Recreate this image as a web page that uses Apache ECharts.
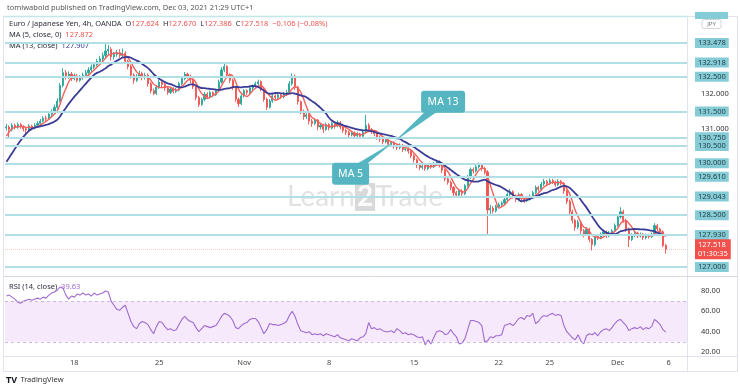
<!DOCTYPE html>
<html>
<head>
<meta charset="utf-8">
<script src="https://cdn.jsdelivr.net/npm/echarts@6/dist/echarts.min.js"></script>
<style>
html, body { margin: 0; padding: 0; background: #fff; }
#c { width: 740px; height: 390px; }
</style>
</head>
<body>
<div id="c"></div>
<script>
// EUR/JPY 4h candles: [open, close, low, high]
var candles = [
	[131.02,131.05,130.95,131.14],[131.05,130.98,130.73,131.10],[130.98,131.10,130.92,131.16],[131.10,131.04,130.98,131.15],
	[131.04,131.12,131.00,131.18],[131.12,131.06,131.00,131.17],[131.06,131.00,130.92,131.10],[131.00,130.96,130.85,131.05],
	[130.96,131.08,130.93,131.14],[131.08,131.02,130.96,131.12],[131.02,131.10,130.98,131.16],[131.10,131.15,131.04,131.22],
	[131.15,131.22,131.10,131.28],[131.22,131.30,131.18,131.36],[131.30,131.28,131.20,131.38],[131.28,131.42,131.25,131.48],
	[131.42,131.50,131.36,131.56],[131.50,131.62,131.45,131.70],[131.62,131.80,131.58,131.88],[131.80,132.25,131.76,132.32],
	[132.25,132.62,132.20,132.75],[132.62,132.50,132.42,132.70],[132.50,132.58,132.44,132.66],[132.58,132.45,132.38,132.64],
	[132.45,132.52,132.40,132.60],[132.52,132.40,132.34,132.58],[132.40,132.48,132.36,132.55],[132.48,132.55,132.42,132.62],
	[132.55,132.62,132.50,132.70],[132.62,132.70,132.56,132.78],[132.70,132.78,132.64,132.86],[132.78,132.85,132.72,132.92],
	[132.85,132.95,132.80,133.02],[132.95,133.02,132.90,133.10],[133.02,133.12,132.96,133.20],[133.12,133.25,133.05,133.49],
	[133.25,133.30,133.15,133.42],[133.30,133.08,132.98,133.36],[133.08,133.15,133.00,133.22],[133.15,133.20,133.08,133.28],
	[133.20,133.12,133.05,133.30],[133.12,133.18,133.06,133.32],[133.18,132.95,132.88,133.24],[132.95,132.80,132.72,133.00],
	[132.80,132.55,132.45,132.86],[132.55,132.40,132.30,132.60],[132.40,132.52,132.35,132.58],[132.52,132.60,132.46,132.68],
	[132.60,132.48,132.40,132.65],[132.48,132.55,132.42,132.62],[132.55,132.30,132.22,132.60],[132.30,132.10,132.02,132.35],
	[132.10,132.02,131.97,132.16],[132.02,132.20,131.98,132.26],[132.20,132.35,132.15,132.42],[132.35,132.28,132.20,132.40],
	[132.28,132.18,132.10,132.33],[132.18,132.05,131.98,132.22],[132.05,132.15,132.00,132.20],[132.15,132.08,132.02,132.20],
	[132.08,132.12,132.03,132.18],[132.12,132.30,132.08,132.36],[132.30,132.45,132.25,132.52],[132.45,132.58,132.40,132.64],
	[132.58,132.52,132.45,132.62],[132.52,132.40,132.32,132.56],[132.40,132.22,132.15,132.45],[132.22,131.90,131.82,132.26],
	[131.90,131.70,131.63,131.95],[131.70,131.85,131.66,131.90],[131.85,132.00,131.80,132.06],[132.00,131.92,131.86,132.05],
	[131.92,132.05,131.88,132.10],[132.05,131.98,131.92,132.08],[131.98,132.10,131.95,132.16],[132.10,132.35,132.06,132.42],
	[132.35,132.70,132.30,132.78],[132.70,132.80,132.64,132.93],[132.80,132.55,132.48,132.84],[132.55,132.40,132.32,132.60],
	[132.40,132.20,132.12,132.45],[132.20,131.85,131.78,132.24],[131.85,131.72,131.63,131.90],[131.72,131.95,131.68,132.00],
	[131.95,132.10,131.90,132.15],[132.10,132.05,131.98,132.14],[132.05,132.18,132.00,132.24],[132.18,132.22,132.12,132.28],
	[132.22,132.30,132.16,132.36],[132.30,132.36,132.24,132.42],[132.36,132.15,132.08,132.40],[132.15,131.85,131.78,132.20],
	[131.85,131.62,131.54,131.90],[131.62,131.80,131.58,131.86],[131.80,131.95,131.75,132.00],[131.95,131.90,131.84,132.00],
	[131.90,131.98,131.85,132.04],[131.98,131.92,131.86,132.02],[131.92,132.00,131.88,132.06],[132.00,132.05,131.95,132.12],
	[132.05,132.30,132.00,132.38],[132.30,132.52,132.25,132.60],[132.52,132.20,132.12,132.56],[132.20,131.78,131.70,132.24],
	[131.78,131.50,131.42,131.82],[131.50,131.35,131.26,131.55],[131.35,131.40,131.28,131.46],[131.40,131.22,131.12,131.45],
	[131.22,131.15,131.05,131.28],[131.15,131.25,131.10,131.30],[131.25,131.05,130.96,131.28],[131.05,131.10,130.98,131.16],
	[131.10,130.98,130.88,131.14],[130.98,131.12,130.94,131.18],[131.12,131.02,130.95,131.16],[131.02,131.15,130.98,131.20],
	[131.15,131.08,131.00,131.20],[131.08,131.18,131.04,131.24],[131.18,131.05,130.98,131.22],[131.05,130.95,130.88,131.08],
	[130.95,130.90,130.82,131.00],[130.90,130.82,130.75,130.95],[130.82,130.88,130.78,130.94],[130.88,130.80,130.72,130.92],
	[130.80,130.85,130.75,130.90],[130.85,130.78,130.70,130.88],[130.78,130.90,130.74,130.98],[130.90,131.10,130.86,131.40],
	[131.10,130.98,130.90,131.16],[130.98,130.92,130.85,131.02],[130.92,130.85,130.78,130.96],[130.85,130.75,130.68,130.90],
	[130.75,130.70,130.62,130.80],[130.70,130.62,130.55,130.74],[130.62,130.68,130.58,130.73],[130.68,130.55,130.48,130.72],
	[130.55,130.60,130.50,130.65],[130.60,130.50,130.42,130.64],[130.50,130.45,130.38,130.55],[130.45,130.52,130.40,130.58],
	[130.52,130.40,130.33,130.56],[130.40,130.42,130.35,130.48],[130.42,130.35,130.28,130.46],[130.35,130.22,130.15,130.40],
	[130.22,130.10,130.02,130.26],[130.10,129.95,129.86,130.14],[129.95,129.88,129.80,130.00],[129.88,129.92,129.82,129.98],
	[129.92,129.85,129.78,129.96],[129.85,129.95,129.80,130.00],[129.95,129.90,129.84,130.00],[129.90,129.98,129.86,130.04],
	[129.98,130.05,129.94,130.10],[130.05,129.95,129.88,130.08],[129.95,129.80,129.72,130.00],[129.80,129.55,129.48,129.84],
	[129.55,129.45,129.38,129.60],[129.45,129.30,129.22,129.50],[129.30,129.15,129.06,129.34],[129.15,129.08,129.00,129.20],
	[129.08,129.20,129.04,129.26],[129.20,129.12,129.05,129.25],[129.12,129.35,129.08,129.40],[129.35,129.60,129.30,129.66],
	[129.60,129.82,129.55,129.88],[129.82,129.78,129.70,129.88],[129.78,129.90,129.74,129.96],[129.90,129.95,129.85,130.02],
	[129.95,129.85,129.78,130.00],[129.85,129.75,129.68,129.90],[129.75,128.65,127.93,129.80],[128.65,128.70,128.52,128.80],
	[128.70,128.62,128.55,128.76],[128.62,128.75,128.58,128.80],[128.75,128.80,128.70,128.86],[128.80,128.85,128.74,128.90],
	[128.85,128.95,128.80,129.00],[128.95,129.10,128.90,129.16],[129.10,129.18,129.04,129.26],[129.18,129.05,128.98,129.22],
	[129.05,128.95,128.88,129.10],[128.95,129.10,128.90,129.15],[129.10,128.98,128.90,129.14],[128.98,128.92,128.85,129.02],
	[128.92,128.96,128.88,129.02],[128.96,129.05,128.92,129.10],[129.05,129.15,129.00,129.20],[129.15,129.30,129.10,129.36],
	[129.30,129.25,129.18,129.35],[129.25,129.40,129.20,129.46],[129.40,129.48,129.34,129.55],[129.48,129.42,129.36,129.52],
	[129.42,129.50,129.38,129.56],[129.50,129.45,129.40,129.55],[129.45,129.38,129.32,129.50],[129.38,129.48,129.34,129.54],
	[129.48,129.42,129.36,129.52],[129.42,129.20,129.12,129.46],[129.20,128.90,128.82,129.24],[128.90,128.60,128.52,128.95],
	[128.60,128.35,128.26,128.66],[128.35,128.15,128.05,128.40],[128.15,128.30,128.10,128.36],[128.30,128.05,127.96,128.34],
	[128.05,127.95,127.86,128.10],[127.95,128.10,127.90,128.16],[128.10,127.80,127.72,128.14],[127.80,127.65,127.48,127.84],
	[127.65,127.90,127.60,127.96],[127.90,127.85,127.78,127.95],[127.85,127.95,127.80,128.00],[127.95,128.02,127.90,128.08],
	[128.02,127.90,127.84,128.06],[127.90,127.98,127.86,128.04],[127.98,128.05,127.94,128.10],[128.05,128.20,128.00,128.26],
	[128.20,128.45,128.16,128.52],[128.45,128.60,128.40,128.73],[128.60,128.35,128.28,128.66],[128.35,128.10,128.02,128.40],
	[128.10,127.80,127.58,128.14],[127.80,127.92,127.75,127.98],[127.92,127.98,127.86,128.04],[127.98,127.90,127.84,128.02],
	[127.90,127.95,127.85,128.00],[127.95,127.85,127.78,127.99],[127.85,127.92,127.80,127.97],[127.92,127.88,127.82,127.96],
	[127.88,127.95,127.84,128.00],[127.95,128.20,127.90,128.27],[128.20,128.10,128.04,128.25],[128.10,128.02,127.96,128.14],
	[128.02,127.624,127.58,128.06],[127.624,127.518,127.386,127.670]
]
// closes before the first visible candle (needed for the MA warm-up)
var priorCloses = [129.38,129.45,129.42,129.50,129.56,129.62,129.74,129.98,130.35,130.62,130.88,131.02]

// RSI(14) per candle
var rsi = [
	75,76,74,72,69, 68,70,71,72,71, 72,73,72,74,73, 76,78,79,81,84,
	83,76,72,75,74, 77,76,78,76,77, 75,78,76,77,78, 80,79,70,66,62,
	61,64,66,58,50, 45,43,48,50,49, 47,42,38,45,50, 49,45,42,43,41,
	42,47,52,55,52, 50,49,44,40,43, 46,45,44,45,46, 50,55,58,57,55,
	51,44,43,46,48, 49,52,53,53,50, 44,38,42,48,47, 47,46,47,48,50,
	56,60,55,47,41, 40,39,40,37,38, 37,38,36,38,37, 36,35,37,34,33,
	32,31,33,32,31, 34,35,38,49,43, 44,42,43,41,40, 40,41,39,43,41,
	38,39,37,38,37, 35,34,35,27,32, 28,34,40,41,40, 37,38,42,38,35,
	28,29,33,42,51, 51,50,49,46,30, 31,35,34,36,36, 37,46,47,48,46,
	49,53,54,52,56, 55,58,48,50,54, 56,55,57,58,56, 57,56,46,40,37,
	34,32,37,31,28, 36,38,37,39,36, 40,42,43,41,44, 48,51,52,49,46,
	41,43,44,43,45, 42,44,43,45,52, 50,47,42,39.63
]

var levels = [133.478, 132.918, 132.5, 131.5, 130.75, 130.5, 130, 129.61, 129.043, 128.5, 127.93, 127]
var priceTicks = [131, 132]
var rsiTicks = [20, 40, 60, 80]
var dateIdx = [24, 54, 84, 114, 144, 174, 192, 216, 234]
var dateText = ['18', '25', 'Nov', '8', '15', '22', '25', 'Dec', '6']
var lastPrice = 127.518
var countdown = '01:30:35'
var crossAt = [137, 130.62]	// where the two callouts point
var nCat = 241	// candles + empty space on the right

var cats = []
for (var i = 0; i < nCat; i++) cats.push(String(i))

var labelAt = {}
dateIdx.forEach(function(d, k) { labelAt[d] = dateText[k] })

// simple moving average of closes
function calcMA(n) {
	var all = priorCloses.concat(candles.map(function(c) { return c[1] }))
	var off = priorCloses.length
	var out = []
	for (var i = 0; i < candles.length; i++) {
		var s = 0
		for (var j = 0; j < n; j++) s += all[off + i - j]
		out.push(+(s / n).toFixed(3))
	}
	return out
}

var font = 'Noto Sans'
var up = '#26a69a', down = '#ef5350'
var lvlLine = '#b2dfe6', lvlBox = '#86ccd7'

var chart = echarts.init(document.getElementById('c'), null, { renderer: 'canvas' })

var option = {
	animation: false,
	textStyle: { fontFamily: font },
	grid: [
		{ left: 5, right: 53, top: 16, height: 259 },
		{ left: 5, right: 53, top: 278, height: 78 }
	],
	xAxis: [{
		type: 'category', data: cats, gridIndex: 0,
		axisLine: { show: false }, axisTick: { show: false }, axisLabel: { show: false },
		splitLine: { show: false }
	}, {
		type: 'category', data: cats, gridIndex: 1,
		axisLine: { show: false }, axisTick: { show: false },
		splitLine: { show: false },
		axisLabel: {
			interval: function(idx) { return labelAt[idx] !== undefined },
			formatter: function(v, idx) { return labelAt[idx] || '' },
			color: '#4a4a4a', fontSize: 7.5, margin: 3
		}
	}],
	yAxis: [{
		type: 'value', gridIndex: 0, position: 'right', min: 126.77, max: 134.26,
		axisLine: { show: false }, axisTick: { show: false }, splitLine: { show: false },
		axisLabel: {
			customValues: priceTicks, color: '#333', fontSize: 7.5, margin: 14,
			formatter: function(v) { return v.toFixed(3) }
		}
	}, {
		type: 'value', gridIndex: 1, position: 'right', min: 16.1, max: 92.8,
		axisLine: { show: false }, axisTick: { show: false }, splitLine: { show: false },
		axisLabel: {
			customValues: rsiTicks, color: '#333', fontSize: 7.5, margin: 14,
			formatter: function(v) { return v.toFixed(2) }
		}
	}],
	series: [{
		type: 'candlestick', xAxisIndex: 0, yAxisIndex: 0,
		data: candles,
		barWidth: 1.6,
		itemStyle: { color: up, color0: down, borderColor: up, borderColor0: down, borderWidth: 0.9 },
		markLine: {
			silent: true, symbol: ['none', 'none'], animation: false, precision: 3,
			lineStyle: { color: lvlLine, width: 2, type: 'solid' },
			label: {
				position: 'end', distance: 8, fontSize: 7.5, color: '#1d3b40',
				backgroundColor: lvlBox, padding: [1, 3, 1, 3]
			},
			data: levels.map(function(v) {
				return { yAxis: v, label: { formatter: v.toFixed(3) } }
			}).concat([{
				yAxis: lastPrice,
				lineStyle: { color: 'rgba(239,83,80,0.3)', width: 1, type: 'dotted' },
				label: {
					backgroundColor: '#f0514c', color: '#fff', padding: [1, 3, 1, 3], lineHeight: 9,
					formatter: lastPrice.toFixed(3) + '\n' + countdown
				}
			}])
		}
	}, {
		name: 'MA 5', type: 'line', xAxisIndex: 0, yAxisIndex: 0,
		data: calcMA(5), showSymbol: false, smooth: 0.3,
		lineStyle: { color: '#f2615c', width: 1.4 }
	}, {
		name: 'MA 13', type: 'line', xAxisIndex: 0, yAxisIndex: 0,
		data: calcMA(13), showSymbol: false, smooth: 0.3,
		lineStyle: { color: '#3b3c96', width: 1.8 }
	}, {
		name: 'RSI', type: 'line', xAxisIndex: 1, yAxisIndex: 1,
		data: rsi, showSymbol: false,
		lineStyle: { color: '#a06cd0', width: 1.1 },
		markArea: {
			silent: true,
			itemStyle: { color: 'rgba(190,120,230,0.16)' },
			data: [[{ yAxis: 30 }, { yAxis: 70 }]]
		},
		markLine: {
			silent: true, symbol: ['none', 'none'], label: { show: false },
			lineStyle: { color: '#cdb8e4', type: [3, 3], width: 1 },
			data: [{ yAxis: 70 }, { yAxis: 30 }]
		}
	}]
}
chart.setOption(option)

// annotations and chrome around the chart
var t = chart.convertToPixel({ gridIndex: 0 }, crossAt)
var tx = t[0], ty = t[1]
var teal = '#55b6c2'
var sm = '7.5px ' + font

chart.setOption({
	graphic: [
		// frame and pane separators
		{ type: 'rect', shape: { x: 3.5, y: 16.5, width: 734, height: 355 }, style: { fill: 'none', stroke: '#e0e3eb', lineWidth: 1 }, silent: true },
		{ type: 'line', shape: { x1: 3.5, y1: 16.5, x2: 687.5, y2: 16.5 }, style: { stroke: '#c4e6eb', lineWidth: 1.5 }, silent: true },
		{ type: 'line', shape: { x1: 687.5, y1: 16.5, x2: 687.5, y2: 371.5 }, style: { stroke: '#e0e3eb', lineWidth: 1 }, silent: true },
		{ type: 'line', shape: { x1: 3.5, y1: 276.5, x2: 737.5, y2: 276.5 }, style: { stroke: '#d6d9e0', lineWidth: 1 }, silent: true },
		{ type: 'line', shape: { x1: 3.5, y1: 356.5, x2: 737.5, y2: 356.5 }, style: { stroke: '#e0e3eb', lineWidth: 1 }, silent: true },

		// top cut price label and currency badge
		{ type: 'rect', shape: { x: 695, y: 12, width: 33, height: 7 }, style: { fill: lvlBox }, silent: true },
		{ type: 'rect', shape: { x: 702, y: 19.5, width: 19, height: 9, r: 2 }, style: { fill: '#fff', stroke: '#c9ccd3', lineWidth: 0.8 }, silent: true },
		{ type: 'text', x: 711.5, y: 24, style: { text: 'JPY', font: '6px ' + font, fill: '#777', align: 'center', verticalAlign: 'middle' }, silent: true },

		// header and legends
		{ type: 'text', x: 7, y: 8, style: { text: 'tomiwabold published on TradingView.com, Dec 03, 2021 21:29 UTC+1', font: sm, fill: '#555', verticalAlign: 'middle' } },
		{ type: 'text', x: 9, y: 24, style: {
			text: '{k|Euro / Japanese Yen, 4h, OANDA}  {k|O}{r|127.624}  {k|H}{r|127.670}  {k|L}{r|127.386}  {k|C}{r|127.518}  {r|\u22120.106 (\u22120.08%)}',
			font: sm, verticalAlign: 'middle',
			rich: { k: { fill: '#2a2e39', font: sm }, r: { fill: '#ef5350', font: sm } }
		} },
		{ type: 'text', x: 9, y: 35, style: {
			text: '{k|MA (5, close, 0)}  {r|127.872}', font: sm, verticalAlign: 'middle',
			rich: { k: { fill: '#2a2e39', font: sm }, r: { fill: '#ef5350', font: sm } }
		} },
		{ type: 'text', x: 9, y: 46, style: {
			text: '{k|MA (13, close)}  {b|127.907}', font: sm, verticalAlign: 'middle',
			rich: { k: { fill: '#2a2e39', font: sm }, b: { fill: '#3b3c96', font: sm } }
		} },
		{ type: 'text', x: 9, y: 287, style: {
			text: '{k|RSI (14, close)}  {p|39.63}', font: sm, verticalAlign: 'middle',
			rich: { k: { fill: '#2a2e39', font: sm }, p: { fill: '#a06cd0', font: sm } }
		} },

		// watermark
		{ type: 'text', x: 365, y: 197, z: 1, silent: true, style: {
			text: 'Learn{b|2}Trade', font: '28px Lato', fill: 'rgba(160,160,160,0.3)',
			align: 'center', verticalAlign: 'middle',
			rich: { b: { font: 'bold 28px Lato', fill: 'rgba(255,255,255,0.9)', backgroundColor: 'rgba(120,120,120,0.28)', padding: [0, 2, 0, 2] } }
		} },

		// MA 13 callout
		{ type: 'polygon', shape: { points: [[tx, ty], [tx + 31, ty - 30], [tx + 43, ty - 30]] }, style: { fill: teal }, z: 50 },
		{ type: 'rect', shape: { x: tx + 27, y: ty - 51, width: 44, height: 22, r: 3 }, style: { fill: teal }, z: 50 },
		{ type: 'text', x: tx + 49, y: ty - 40, z: 51, style: { text: 'MA 13', font: '10.5px ' + font, fill: '#fff', align: 'center', verticalAlign: 'middle' } },

		// MA 5 callout
		{ type: 'polygon', shape: { points: [[tx, ty], [tx - 37, ty + 22], [tx - 27, ty + 22]] }, style: { fill: teal }, z: 50 },
		{ type: 'rect', shape: { x: tx - 62, y: ty + 21, width: 37, height: 22, r: 3 }, style: { fill: teal }, z: 50 },
		{ type: 'text', x: tx - 43.5, y: ty + 32, z: 51, style: { text: 'MA 5', font: '10.5px ' + font, fill: '#fff', align: 'center', verticalAlign: 'middle' } },

		// TradingView mark
		{ type: 'text', x: 6, y: 380, style: {
			text: '{l|TV} {n|TradingView}', verticalAlign: 'middle',
			rich: { l: { font: 'bold 9px ' + font, fill: '#131722' }, n: { font: sm, fill: '#333' } }
		} }
	]
})
</script>
</body>
</html>
